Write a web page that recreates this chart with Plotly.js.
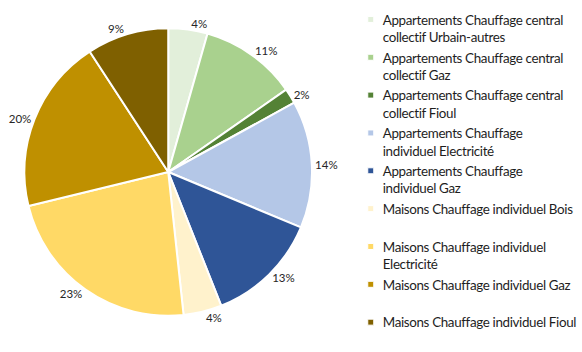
<!DOCTYPE html>
<html>
<head>
<meta charset="utf-8">
<script src="https://cdn.plot.ly/plotly-3.0.1.min.js"></script>
<style>
html,body{margin:0;padding:0;background:#fff;}
#chart{width:582px;height:352px;}
.legendpie{transform:translate(28px,0px) scale(0.5);}
.legendtext{letter-spacing:-0.35px;}
</style>
</head>
<body>
<div id="chart"></div>
<script>
var categories = [
  "Appartements Chauffage central<br>collectif Urbain-autres",
  "Appartements Chauffage central<br>collectif Gaz",
  "Appartements Chauffage central<br>collectif Fioul",
  "Appartements Chauffage<br>individuel Electricité",
  "Appartements Chauffage<br>individuel Gaz",
  "Maisons Chauffage individuel Bois<br> ",
  "Maisons Chauffage individuel<br>Electricité",
  "Maisons Chauffage individuel Gaz<br> ",
  "Maisons Chauffage individuel Fioul"
];
var values = [4.4, 10.9, 1.7, 14.3, 12.7, 4.3, 22.9, 19.6, 9.2];
var colors = ["#e2efda","#a9d18e","#548235","#b4c7e7","#2f5597","#fff2cc","#ffd966","#bf9000","#7f6000"];

var trace = {
  type: "pie",
  labels: categories,
  values: values,
  sort: false,
  direction: "clockwise",
  rotation: 0,
  marker: {colors: colors, line: {color: "#ffffff", width: 2}},
  textposition: "outside",
  texttemplate: "%{percent:.0%}",
  textfont: {family: "Lato, sans-serif", size: 11.5, color: "#262626"},
  hoverinfo: "label+percent",
  domain: {x: [26/582, 332/582], y: [27/352, 333/352]}
};

var layout = {
  width: 582, height: 352,
  margin: {l: 0, r: 0, t: 0, b: 0},
  paper_bgcolor: "#ffffff",
  showlegend: true,
  legend: {
    x: 0.6266, y: 0.988, xanchor: "left", yanchor: "top",
    valign: "top",
    font: {family: "Lato, sans-serif", size: 13.4, color: "#1e1e1e"},
    traceorder: "normal",
    itemwidth: 30
  },
  font: {family: "Lato, sans-serif"}
};

Plotly.newPlot("chart", [trace], layout, {staticPlot: true, displayModeBar: false});
</script>
</body>
</html>
